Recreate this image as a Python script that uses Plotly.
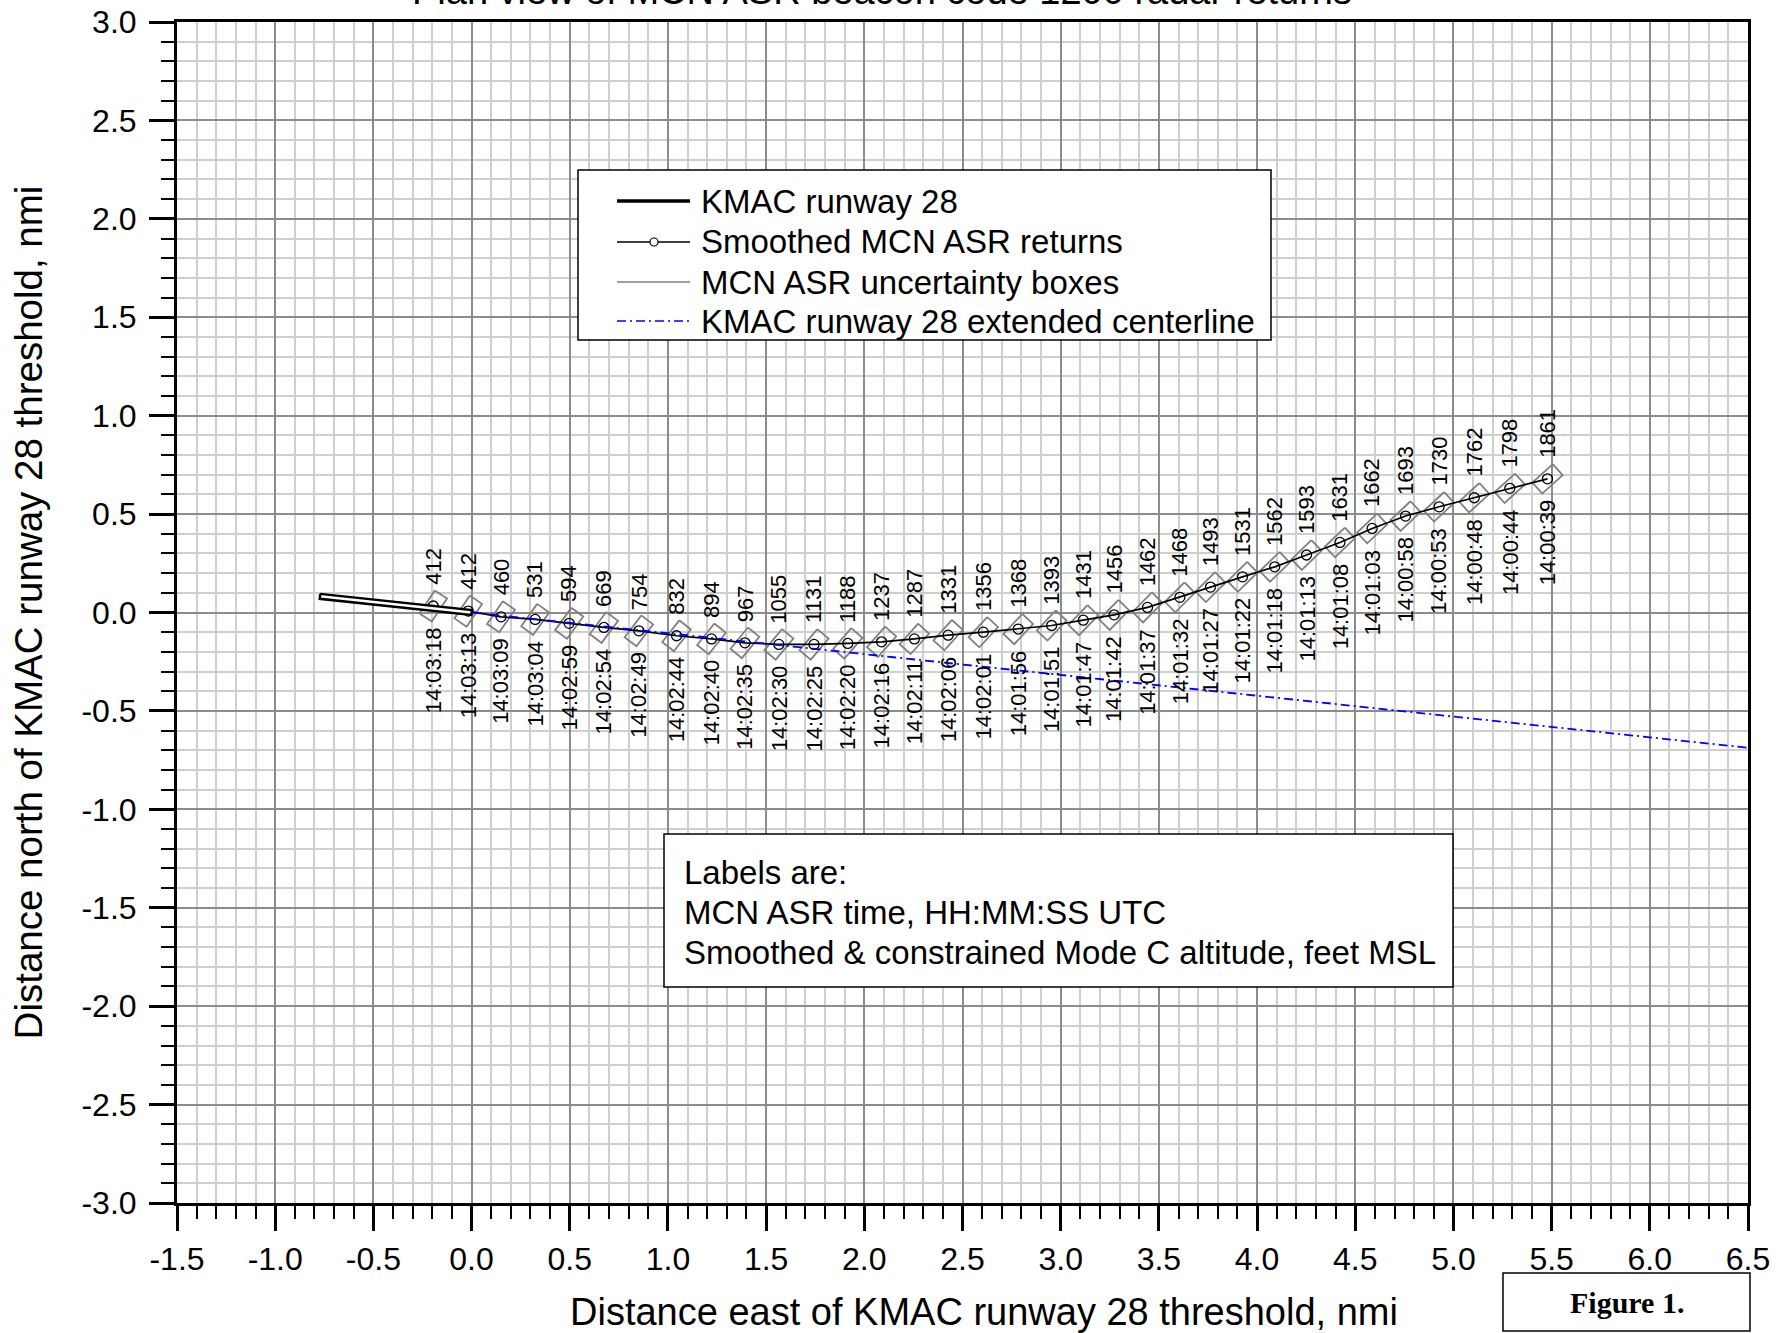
import numpy as np
import plotly.graph_objects as go

# ---------------- data ----------------
track_x = [-0.195, -0.017, 0.150, 0.324, 0.497, 0.674, 0.852, 1.044, 1.222, 1.392,
           1.565, 1.744, 1.916, 2.088, 2.255, 2.427, 2.606, 2.784, 2.954, 3.115,
           3.272, 3.442, 3.607, 3.763, 3.926, 4.090, 4.252, 4.422, 4.586, 4.756,
           4.927, 5.106, 5.287, 5.479]
track_y = [0.033, 0.007, -0.022, -0.035, -0.055, -0.076, -0.093, -0.118, -0.134, -0.154,
           -0.162, -0.162, -0.157, -0.149, -0.134, -0.115, -0.100, -0.084, -0.066, -0.039,
           -0.012, 0.026, 0.077, 0.129, 0.181, 0.232, 0.292, 0.356, 0.427, 0.490,
           0.537, 0.583, 0.631, 0.679]
times = ["14:03:18", "14:03:13", "14:03:09", "14:03:04", "14:02:59", "14:02:54", "14:02:49",
         "14:02:44", "14:02:40", "14:02:35", "14:02:30", "14:02:25", "14:02:20", "14:02:16",
         "14:02:11", "14:02:06", "14:02:01", "14:01:56", "14:01:51", "14:01:47", "14:01:42",
         "14:01:37", "14:01:32", "14:01:27", "14:01:22", "14:01:18", "14:01:13", "14:01:08",
         "14:01:03", "14:00:58", "14:00:53", "14:00:48", "14:00:44", "14:00:39"]
altitudes = [412, 412, 460, 531, 594, 669, 754, 832, 894, 967, 1055, 1131, 1188, 1237,
             1287, 1331, 1356, 1368, 1393, 1431, 1456, 1462, 1468, 1493, 1531, 1562, 1593,
             1631, 1662, 1693, 1730, 1762, 1798, 1861]

runway_x = [-0.772, 0.0]
runway_y = [0.082, 0.0]
runway_width = 0.025

centerline_x = [0.0, 6.5]
centerline_y = [0.0, -0.687]

radar_x, radar_y = -7.5, -11.0      # approximate ASR site (sets box orientation)
box_range_len = 0.14                # uncertainty box size along range, nmi
box_az_len = 0.075                  # uncertainty box size across range, nmi

x_tick_vals = [-1.5, -1.0, -0.5, 0.0, 0.5, 1.0, 1.5, 2.0, 2.5, 3.0, 3.5, 4.0, 4.5, 5.0, 5.5, 6.0, 6.5]
x_tick_text = ["-1.5", "-1.0", "-0.5", "0.0", "0.5", "1.0", "1.5", "2.0", "2.5", "3.0",
               "3.5", "4.0", "4.5", "5.0", "5.5", "6.0", "6.5"]
y_tick_vals = [-3.0, -2.5, -2.0, -1.5, -1.0, -0.5, 0.0, 0.5, 1.0, 1.5, 2.0, 2.5, 3.0]
y_tick_text = ["-3.0", "-2.5", "-2.0", "-1.5", "-1.0", "-0.5", "0.0", "0.5", "1.0", "1.5",
               "2.0", "2.5", "3.0"]

legend_names = ["KMAC runway 28", "Smoothed MCN ASR returns", "MCN ASR uncertainty boxes",
                "KMAC runway 28 extended centerline"]
note_lines = ["Labels are:", "MCN ASR time, HH:MM:SS UTC",
              "Smoothed & constrained Mode C altitude, feet MSL"]
title_text = "Plan view of MCN ASR beacon code 1200 radar returns"
x_title = "Distance east of KMAC runway 28 threshold, nmi"
y_title = "Distance north of KMAC runway 28 threshold, nmi"

FONT = "Liberation Sans, Arial, Helvetica, sans-serif"
BOX_GRAY = "#808080"

# ---------------- derived geometry ----------------
bx, by = [], []
for x, y in zip(track_x, track_y):
    ux, uy = x - radar_x, y - radar_y
    n = np.hypot(ux, uy)
    ux, uy = ux / n, uy / n
    vx, vy = -uy, ux
    a, b = box_range_len / 2, box_az_len / 2
    pts = [(x + a * ux + b * vx, y + a * uy + b * vy),
           (x + a * ux - b * vx, y + a * uy - b * vy),
           (x - a * ux - b * vx, y - a * uy - b * vy),
           (x - a * ux + b * vx, y - a * uy + b * vy)]
    pts.append(pts[0])
    bx += [p[0] for p in pts] + [None]
    by += [p[1] for p in pts] + [None]

rdx = runway_x[1] - runway_x[0]
rdy = runway_y[1] - runway_y[0]
rn = np.hypot(rdx, rdy)
px_, py_ = -rdy / rn * runway_width / 2, rdx / rn * runway_width / 2
rw_x = [runway_x[0] + px_, runway_x[1] + px_, runway_x[1] - px_, runway_x[0] - px_, runway_x[0] + px_]
rw_y = [runway_y[0] + py_, runway_y[1] + py_, runway_y[1] - py_, runway_y[0] - py_, runway_y[0] + py_]

fig = go.Figure()
fig.add_trace(go.Scatter(x=bx, y=by, mode="lines", name=legend_names[2],
                         line=dict(color=BOX_GRAY, width=1.8), showlegend=False))
fig.add_trace(go.Scatter(x=track_x, y=track_y, mode="lines+markers", name=legend_names[1],
                         line=dict(color="black", width=1.7),
                         marker=dict(symbol="circle-open", size=10, color="black", line=dict(width=1.3)),
                         showlegend=False))
fig.add_trace(go.Scatter(x=rw_x, y=rw_y, mode="lines", name=legend_names[0], fill="toself",
                         fillcolor="white", line=dict(color="black", width=2.4), showlegend=False))
fig.add_trace(go.Scatter(x=centerline_x, y=centerline_y, mode="lines", name=legend_names[3],
                         line=dict(color="#0000ff", width=1.8, dash="9px,4px,2px,4px"),
                         showlegend=False))

annotations = []
for x, y, t, a in zip(track_x, track_y, times, altitudes):
    annotations.append(dict(x=x, y=y, xref="x", yref="y", text=str(a), showarrow=False,
                            textangle=-90, xanchor="center", yanchor="bottom", yshift=19,
                            font=dict(family=FONT, size=22, color="black")))
    annotations.append(dict(x=x, y=y, xref="x", yref="y", text=t, showarrow=False,
                            textangle=-90, xanchor="center", yanchor="top", yshift=-19,
                            font=dict(family=FONT, size=22, color="black")))

# pixel -> paper helpers (plot area 177..1748 x 22..1203)
L, R, T, B = 177, 1748, 22, 1203
def pxx(v):
    return (v - L) / (R - L)
def pyy(v):
    return (B - v) / (B - T)

shapes = []
# legend box
shapes.append(dict(type="rect", xref="paper", yref="paper", x0=pxx(578), x1=pxx(1271),
                   y0=pyy(340), y1=pyy(170), fillcolor="white", line=dict(color="black", width=1.5),
                   layer="above"))
rows = [201, 242, 282, 321]
shapes.append(dict(type="line", xref="paper", yref="paper", x0=pxx(617), x1=pxx(690),
                   y0=pyy(rows[0]), y1=pyy(rows[0]), line=dict(color="black", width=3.5)))
shapes.append(dict(type="line", xref="paper", yref="paper", x0=pxx(617), x1=pxx(690),
                   y0=pyy(rows[1]), y1=pyy(rows[1]), line=dict(color="black", width=1.5)))
shapes.append(dict(type="circle", xref="paper", yref="paper", x0=pxx(650), x1=pxx(658),
                   y0=pyy(rows[1] + 4), y1=pyy(rows[1] - 4), fillcolor="white",
                   line=dict(color="black", width=1.2)))
shapes.append(dict(type="line", xref="paper", yref="paper", x0=pxx(617), x1=pxx(690),
                   y0=pyy(rows[2]), y1=pyy(rows[2]), line=dict(color=BOX_GRAY, width=1.5)))
shapes.append(dict(type="line", xref="paper", yref="paper", x0=pxx(617), x1=pxx(690),
                   y0=pyy(rows[3]), y1=pyy(rows[3]),
                   line=dict(color="#0000ff", width=1.5, dash="9px,4px,2px,4px")))
for name, r in zip(legend_names, rows):
    annotations.append(dict(x=pxx(699), y=pyy(r), xref="paper", yref="paper", text=name,
                            showarrow=False, xanchor="left", yanchor="middle",
                            font=dict(family=FONT, size=33, color="black")))

# notes box
shapes.append(dict(type="rect", xref="paper", yref="paper", x0=pxx(664), x1=pxx(1453),
                   y0=pyy(987), y1=pyy(834), fillcolor="white", line=dict(color="black", width=1.5)))
for line_txt, r in zip(note_lines, [872, 912, 952]):
    annotations.append(dict(x=pxx(682), y=pyy(r), xref="paper", yref="paper", text=line_txt,
                            showarrow=False, xanchor="left", yanchor="middle",
                            font=dict(family=FONT, size=33, color="black")))

# figure label box
shapes.append(dict(type="rect", xref="paper", yref="paper", x0=pxx(1503), x1=pxx(1750),
                   y0=pyy(1331), y1=pyy(1273), fillcolor="white", line=dict(color="black", width=1.5)))
annotations.append(dict(x=pxx(1627), y=pyy(1302), xref="paper", yref="paper", text="<b>Figure 1.</b>",
                        showarrow=False, xanchor="center", yanchor="middle",
                        font=dict(family="Liberation Serif, Times New Roman, serif", size=30, color="black")))

# title (mostly clipped at top, as in the source)
annotations.append(dict(x=pxx(882), y=1.0, xref="paper", yref="paper", text=title_text,
                        showarrow=False, xanchor="center", yanchor="bottom", yshift=8,
                        font=dict(family=FONT, size=38, color="black")))

# x-axis title (placed slightly right of centre as in the source)
annotations.append(dict(x=pxx(984), y=pyy(1312), xref="paper", yref="paper", text=x_title,
                        showarrow=False, xanchor="center", yanchor="middle",
                        font=dict(family=FONT, size=38, color="black")))

axis_common = dict(showline=True, linecolor="black", linewidth=3, mirror=True,
                   ticks="outside", ticklen=25, tickwidth=2.5, tickcolor="black",
                   showgrid=True, gridcolor="#8c8c8c", gridwidth=1.5, zeroline=False,
                   automargin=False,
                   tickfont=dict(family=FONT, size=32, color="black"))
minor_common = dict(tickmode="linear", tick0=0, dtick=0.1, ticks="outside", ticklen=13,
                    tickwidth=2, tickcolor="black", showgrid=True, gridcolor="#cfcfcf",
                    gridwidth=1.5)

fig.update_layout(
    width=1781, height=1333,
    margin=dict(l=L, r=1781 - R, t=T, b=1333 - B),
    paper_bgcolor="white", plot_bgcolor="white",
    showlegend=False,
    font=dict(family=FONT, color="black"),
    xaxis=dict(range=[-1.5, 6.5], tickmode="array", tickvals=x_tick_vals, ticktext=x_tick_text,
               minor=minor_common, ticklabelstandoff=1, **axis_common),
    yaxis=dict(range=[-3.0, 3.0], tickmode="array", tickvals=y_tick_vals, ticktext=y_tick_text,
               title=dict(text=y_title, font=dict(family=FONT, size=38.5, color="black"), standoff=27),
               minor=minor_common, ticklabelstandoff=6, **axis_common),
    shapes=shapes,
    annotations=annotations,
)

fig.write_html("out.html")
